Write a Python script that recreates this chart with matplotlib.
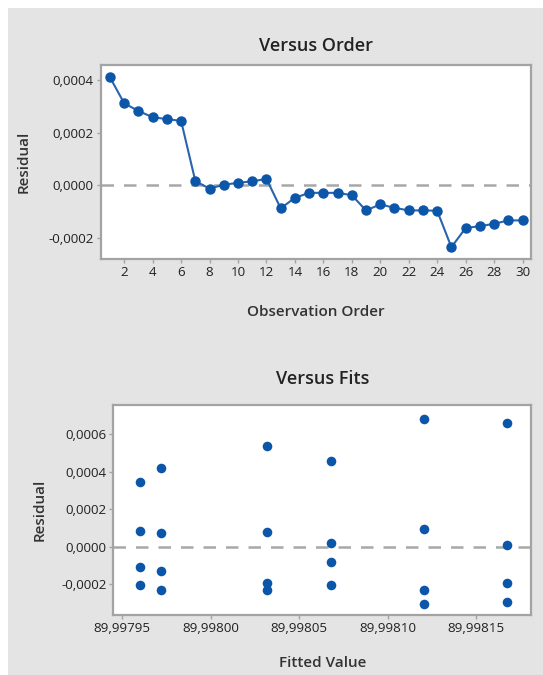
import matplotlib
matplotlib.use("Agg")
import matplotlib.pyplot as plt
from matplotlib.patches import Rectangle
from matplotlib.ticker import FuncFormatter

# Residuals in observation order
order = list(range(1, 31))
resid_order = [0.000411, 0.000312, 0.000283, 0.000259, 0.000252, 0.000245,
               0.000016, -0.000013, 0.000002, 0.000009, 0.000015, 0.000024,
               -0.000088, -0.000048, -0.000029, -0.000029, -0.000029, -0.000038,
               -0.000096, -0.000073, -0.000086, -0.000096, -0.000096, -0.000097,
               -0.000236, -0.000163, -0.000156, -0.000147, -0.000134, -0.000134]

# Residuals versus fitted values
fitted = [89.9979604] * 4 + [89.9979719] * 4 + [89.9980318] * 4 + \
         [89.9980678] * 4 + [89.9981203] * 4 + [89.9981676] * 4
resid_fits = [0.000347, 0.000083, -0.000110, -0.000202,
              0.000418, 0.000073, -0.000130, -0.000230,
              0.000537, 0.000080, -0.000193, -0.000232,
              0.000457, 0.000020, -0.000083, -0.000203,
              0.000680, 0.000094, -0.000233, -0.000306,
              0.000660, 0.000008, -0.000193, -0.000296]

order_ticks = list(range(2, 31, 2))
order_yticks = [-0.0002, 0.0, 0.0002, 0.0004]
fits_xticks = [89.99795, 89.99800, 89.99805, 89.99810, 89.99815]
fits_yticks = [-0.0002, 0.0, 0.0002, 0.0004, 0.0006]

BLUE = "#0b56a8"
LINE = "#2a64ad"
GRAY_BG = "#e4e4e4"
FRAME = "#a3a3a3"
TXT = "#222222"

plt.rcParams["font.family"] = ["Open Sans", "DejaVu Sans"]

fig = plt.figure(figsize=(5.43, 6.75), dpi=100, facecolor="white")
fig.patches.append(Rectangle((8 / 543, 0), 1 - 8 / 543, 1 - 8 / 675,
                             transform=fig.transFigure, facecolor=GRAY_BG,
                             edgecolor="none", zorder=-10))


def comma_fmt(decimals):
    return FuncFormatter(lambda v, p: f"{v:.{decimals}f}".replace(".", ","))


def style_axes(ax):
    ax.set_facecolor("white")
    for s in ax.spines.values():
        s.set_color(FRAME)
        s.set_linewidth(1.6)
    ax.tick_params(axis="both", colors=FRAME, labelcolor=TXT, length=3,
                   width=1, labelsize=9.6, pad=2)
    ax.axhline(0, color="#a8a8a8", lw=1.8, ls=(0, (5, 4)), zorder=1)


# Versus Order
ax1 = fig.add_axes([0.1855, 0.6163, 0.7925, 0.2874])
style_axes(ax1)
ax1.plot(order, resid_order, color=LINE, lw=1.5, marker="o", ms=6.5,
         mfc=BLUE, mec=BLUE, zorder=3)
ax1.set_xlim(0.35, 30.6)
ax1.set_ylim(-0.000281, 0.000458)
ax1.set_xticks(order_ticks)
ax1.set_yticks(order_yticks)
ax1.yaxis.set_major_formatter(comma_fmt(4))
ax1.set_title("Versus Order", fontsize=13, fontweight="semibold", color=TXT, pad=10)
ax1.set_xlabel("Observation Order", fontsize=11, fontweight="semibold",
               color="#333333", labelpad=19)
ax1.set_ylabel("Residual", fontsize=11, fontweight="semibold",
               color="#333333", labelpad=13)

# Versus Fits
ax2 = fig.add_axes([0.2087, 0.0889, 0.7693, 0.3111])
style_axes(ax2)
ax2.scatter(fitted, resid_fits, s=48, color=BLUE, zorder=3, linewidths=0)
ax2.set_xlim(89.9979451, 89.9981809)
ax2.set_ylim(-0.000364, 0.000756)
ax2.set_xticks(fits_xticks)
ax2.set_yticks(fits_yticks)
ax2.xaxis.set_major_formatter(comma_fmt(5))
ax2.yaxis.set_major_formatter(comma_fmt(4))
ax2.set_title("Versus Fits", fontsize=13, fontweight="semibold", color=TXT, pad=15)
ax2.set_xlabel("Fitted Value", fontsize=11, fontweight="semibold",
               color="#333333", labelpad=15.5)
ax2.set_ylabel("Residual", fontsize=11, fontweight="semibold",
               color="#333333", labelpad=10)

fig.savefig("out.png", dpi=100, facecolor="white")
